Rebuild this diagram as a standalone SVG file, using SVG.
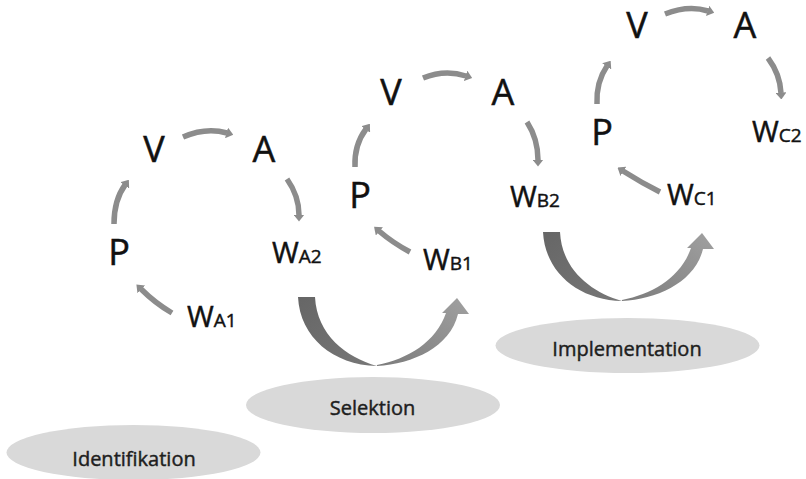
<svg xmlns="http://www.w3.org/2000/svg" width="806" height="479" viewBox="0 0 806 479">
<style>
.big{font-family:"Open Sans","Liberation Sans",sans-serif;font-size:36px;fill:#111;stroke:#111;stroke-width:0.5;text-anchor:middle}
.w{font-family:"Open Sans","Liberation Sans",sans-serif;font-size:29px;fill:#111;stroke:#111;stroke-width:0.45}
.w tspan{font-size:19px}
.lbl{font-family:"Open Sans","Liberation Sans",sans-serif;font-size:20px;fill:#1e1e1e;stroke:#1e1e1e;stroke-width:0.45;text-anchor:middle}
.ell{fill:#d9d9d9}
.arc{fill:none;stroke:#8c8c8c;stroke-width:5.5;marker-end:url(#head)}
</style>
<defs>
<marker id="head" markerUnits="userSpaceOnUse" viewBox="0 0 7 11" refX="0.5" refY="5.5" markerWidth="7" markerHeight="11" orient="auto">
<path d="M0,0 L7,5.5 L0,11 Z" fill="#8c8c8c"/>
</marker>
<linearGradient id="gl" x1="0" y1="0" x2="1" y2="1">
<stop offset="0" stop-color="#666"/>
<stop offset="1" stop-color="#777"/>
</linearGradient>
<linearGradient id="gr" x1="0" y1="1" x2="1" y2="0">
<stop offset="0" stop-color="#7c7c7c"/>
<stop offset="1" stop-color="#a0a0a0"/>
</linearGradient>
<g id="uarrow">
<path d="M0,0 C2,40 35,68 79,69 C48,60 19,38 17,0 Z" fill="url(#gl)"/>
<path d="M79,69 C115,67 152,50 160,17 L171,17 L159,1 L144,16 L148,16 C138,45 110,62 79,68 Z" fill="url(#gr)"/>
</g>
</defs>

<g id="phases">
<g id="identifikation">
<ellipse class="ell" cx="133.5" cy="452.5" rx="127" ry="27.5"/>
<text class="lbl" x="134" y="466">Identifikation</text>
</g>
<g id="selektion">
<ellipse class="ell" cx="373" cy="405" rx="127" ry="28"/>
<text class="lbl" x="372.5" y="415">Selektion</text>
</g>
<g id="implementation">
<ellipse class="ell" cx="627.5" cy="345.5" rx="132" ry="27.5"/>
<text class="lbl" x="627" y="356">Implementation</text>
</g>
</g>

<g id="cycleA">
<text id="VA" class="big" x="154" y="162">V</text>
<text id="AA" class="big" x="264" y="162">A</text>
<text id="PA" class="big" x="119" y="265">P</text>
<text id="WA2" class="w" x="272" y="263">W<tspan>A2</tspan></text>
<text id="WA1" class="w" x="187" y="327">W<tspan>A1</tspan></text>
</g>
<g id="cycleB">
<text id="VB" class="big" x="391" y="105">V</text>
<text id="AB" class="big" x="503" y="105">A</text>
<text id="PB" class="big" x="360" y="208">P</text>
<text id="WB2" class="w" x="510" y="207">W<tspan>B2</tspan></text>
<text id="WB1" class="w" x="423" y="270">W<tspan>B1</tspan></text>
</g>
<g id="cycleC">
<text id="VC" class="big" x="637" y="38">V</text>
<text id="AC" class="big" x="745" y="38">A</text>
<text id="PC" class="big" x="602" y="145">P</text>
<text id="WC2" class="w" x="752" y="142">W<tspan>C2</tspan></text>
<text id="WC1" class="w" x="667" y="205">W<tspan>C1</tspan></text>
</g>

<g id="connectors">
<path class="arc" d="M183,137 Q206,127 227,133"/>
<path class="arc" d="M287,179 Q299,196 299,215"/>
<path class="arc" d="M172,313 Q155,303 141,289"/>
<path class="arc" d="M114,224 Q114,200 125,185"/>

<path class="arc" d="M423,78 Q445,69 466,76"/>
<path class="arc" d="M527,122 Q538,139 538,160"/>
<path class="arc" d="M410,252 Q393,243 379,231"/>
<path class="arc" d="M355,167 Q354,145 366,129"/>

<path class="arc" d="M665,14 Q688,5 708,11"/>
<path class="arc" d="M768,58 Q780,74 781,93"/>
<path class="arc" d="M660,192 Q642,183 623,171"/>
<path class="arc" d="M597,104 Q596,82 607,66"/>

<use href="#uarrow" transform="translate(298,297)"/>
<use href="#uarrow" transform="translate(543,232)"/>
</g>
</svg>
